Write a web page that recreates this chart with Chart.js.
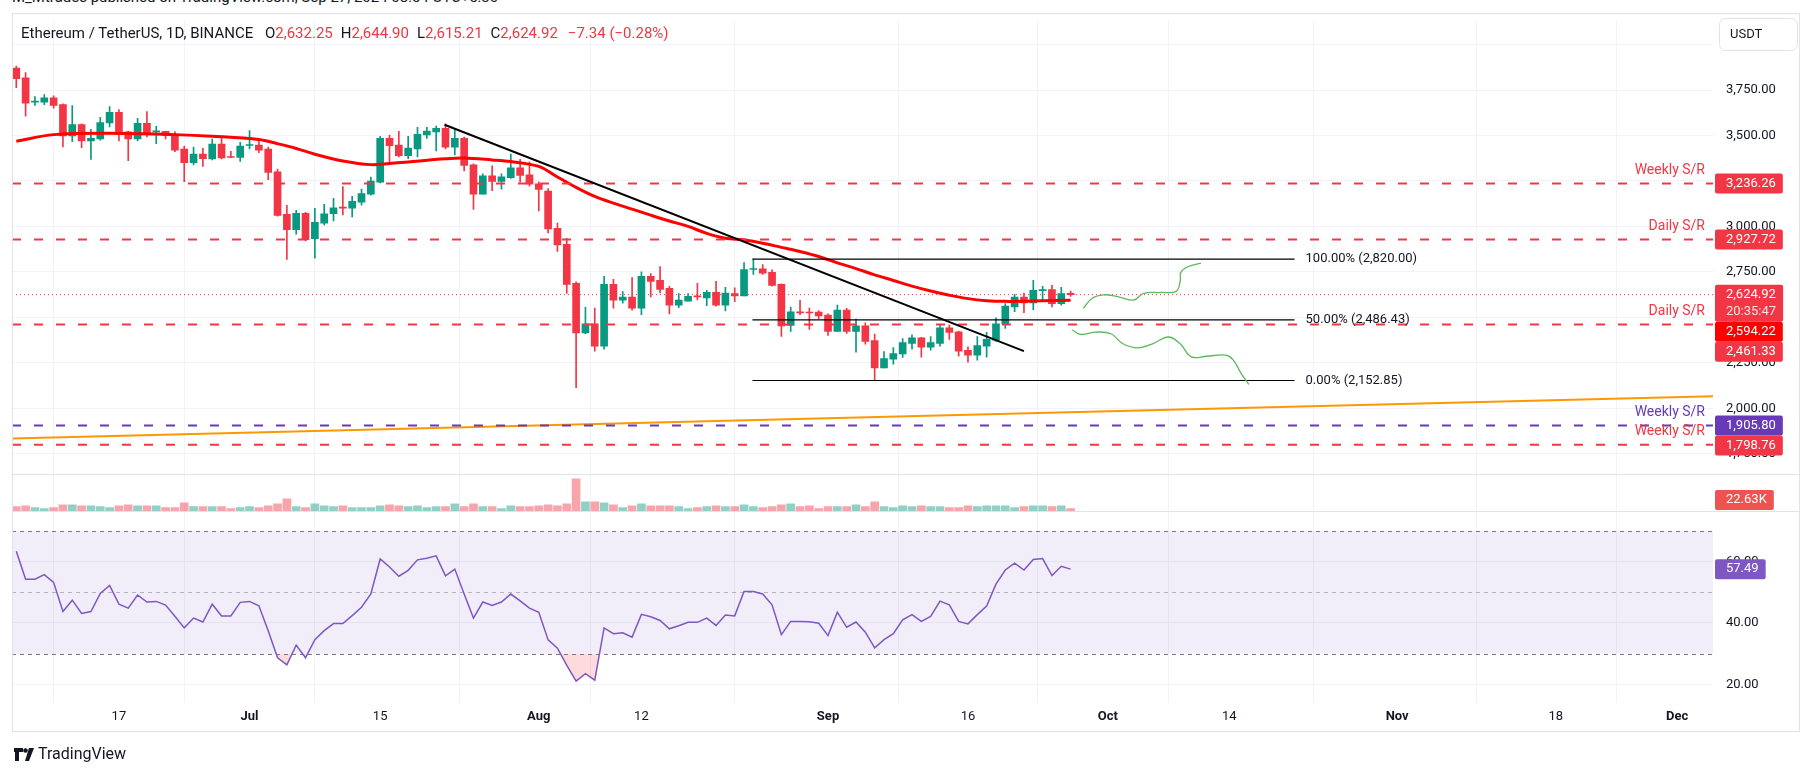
<!DOCTYPE html>
<html>
<head>
<meta charset="utf-8">
<script src="https://cdn.jsdelivr.net/npm/chart.js@4.4.1/dist/chart.umd.min.js"></script>
<style>
  html, body { margin: 0; padding: 0; background: #fff; }
  body { width: 1814px; height: 777px; position: relative; overflow: hidden;
         font-family: Roboto, "Noto Sans", "DejaVu Sans", sans-serif; color: #131722; }
  #chart { position: absolute; left: 0; top: 0; }
  .pub { position: absolute; left: 12px; top: -11px; font-size: 15px; line-height: 16px; white-space: nowrap; }
  .legend { position: absolute; left: 21px; top: 24px; font-size: 15px; line-height: 18px; white-space: nowrap; }
  .legend span { margin-left: 8px; }
  .legend .v { color: #f23645; margin-left: 0; }
  .footer { position: absolute; left: 14px; top: 745px; font-size: 16px; line-height: 18px; white-space: nowrap; }
  .footer svg { vertical-align: -2px; margin-right: 3px; }
</style>
</head>
<body>
<div class="pub">M_Mtrades published on TradingView.com, Sep 27, 2024 08:54 UTC+5:30</div>
<canvas id="chart" width="1814" height="777"></canvas>
<div class="legend">Ethereum / TetherUS, 1D, BINANCE <span>O<b class="v" style="font-weight:normal">2,632.25</b></span><span>H<b class="v" style="font-weight:normal">2,644.90</b></span><span>L<b class="v" style="font-weight:normal">2,615.21</b></span><span>C<b class="v" style="font-weight:normal">2,624.92</b></span><span class="v" style="margin-left:10px">−7.34 (−0.28%)</span></div>
<div class="footer"><svg width="21" height="13" viewBox="0 0 21 13"><path d="M0 0h9v4H5v9H1V4H0z" fill="#131722"/><circle cx="11.5" cy="2.5" r="2.3" fill="#131722"/><path d="M15 0h5l-5 13h-4z" fill="#131722"/></svg>TradingView</div>
<script>
// daily candles, 6 Jun – 27 Sep 2024 (index 0 = 6 Jun)
const opens = [3871,3817,3683,3683,3708,3670,3498,3560,3471,3482,3569,3627,3520,3482,3567,3520,3523,3505,3426,3351,
  3398,3371,3453,3382,3379,3445,3447,3426,3301,3067,2982,3072,2933,3018,3070,3105,3101,3134,3177,3243,
  3485,3447,3389,3427,3504,3520,3540,3436,3485,3339,3177,3279,3248,3268,3322,3284,3235,3195,2989,2902,
  2687,2415,2464,2341,2681,2595,2611,2551,2725,2703,2660,2567,2589,2618,2607,2638,2567,2631,2618,2763,
  2767,2747,2681,2455,2530,2528,2529,2513,2423,2540,2423,2453,2372,2222,2270,2299,2357,2388,2336,2357,
  2442,2421,2318,2292,2341,2375,2464,2558,2611,2580,2647,2653,2575,2632.25];
const highs = [3882,3846,3714,3725,3719,3674,3665,3565,3534,3600,3659,3643,3524,3594,3632,3551,3525,3522,3442,3436,
  3429,3480,3493,3413,3462,3527,3469,3437,3315,3116,3089,3078,3100,3121,3154,3219,3165,3206,3272,3496,
  3502,3523,3496,3545,3545,3552,3565,3538,3491,3344,3290,3333,3290,3398,3369,3355,3246,3208,3018,2935,
  2696,2555,2551,2725,2709,2642,2719,2750,2741,2779,2671,2631,2631,2687,2649,2698,2665,2663,2801,2820,
  2790,2761,2685,2557,2593,2551,2537,2519,2567,2549,2490,2470,2408,2312,2334,2383,2404,2390,2394,2457,
  2457,2424,2338,2394,2417,2497,2576,2627,2634,2703,2671,2676,2665,2644.90];
const lows = [3763,3607,3665,3670,3650,3438,3466,3433,3368,3475,3547,3471,3362,3471,3493,3455,3482,3411,3246,3339,
  3330,3366,3371,3378,3357,3426,3406,3257,3056,2819,2958,2920,2826,3009,3031,3063,3052,3117,3172,3239,
  3353,3382,3373,3382,3484,3415,3427,3393,3306,3094,3177,3197,3205,3264,3243,3221,3085,2964,2862,2631,
  2113,2410,2314,2325,2551,2578,2540,2515,2613,2634,2519,2553,2589,2596,2564,2562,2535,2586,2618,2736,
  2736,2672,2395,2423,2515,2433,2493,2401,2423,2412,2309,2352,2152.85,2222,2243,2280,2325,2281,2319,2341,
  2379,2287,2254,2265,2281,2368,2439,2531,2526,2542,2596,2558,2567,2615.21];
const closes = [3813,3678,3689,3708,3665,3498,3560,3471,3484,3571,3627,3505,3482,3567,3505,3523,3500,3420,3351,3398,
  3373,3453,3377,3379,3442,3448,3420,3297,3061,2982,3072,2927,3022,3070,3103,3101,3138,3181,3250,3485,
  3444,3389,3431,3507,3524,3540,3436,3485,3335,3177,3279,3248,3273,3322,3281,3232,3204,2986,2899,2681,
  2415,2464,2341,2681,2595,2611,2551,2725,2698,2654,2567,2595,2616,2613,2638,2567,2633,2618,2763,2768,
  2743,2676,2453,2531,2525,2524,2508,2423,2540,2423,2453,2368,2222,2274,2301,2361,2388,2336,2361,2442,
  2417,2314,2292,2345,2379,2464,2562,2611,2580,2649,2651,2575,2631,2624.92];
// volume, thousands
const volumes = [43,52,33,23,33,62,62,52,52,43,33,52,62,52,52,52,33,33,82,43,
  43,43,43,23,33,43,33,52,72,121,43,33,72,52,43,52,33,33,33,52,
  62,52,43,52,33,43,43,72,43,72,43,43,23,52,43,43,52,62,52,72,
  320,92,92,82,62,33,52,72,52,52,52,43,23,33,43,52,43,43,62,43,
  33,43,62,72,43,52,23,43,43,43,62,43,92,43,33,52,43,52,43,43,
  33,33,52,43,52,52,52,33,43,52,52,43,52,22.63];
const rsiValues = [63.3,54.2,54.2,55.7,53.2,43.7,47.4,43.1,43.7,49.6,52.2,46.1,44.8,49.1,46.8,47.0,45.8,42.2,38.4,41.6,
  40.3,46.1,42.3,42.3,46.7,47.0,45.6,37.5,28.7,26.4,32.8,28.7,34.6,37.5,39.8,39.8,42.4,45.1,49.4,60.8,
  58.2,55.2,57.1,60.5,61.0,61.8,55.3,57.5,49.4,41.6,46.8,45.7,46.8,49.4,47.2,44.8,43.5,34.5,31.8,26.2,
  21.1,23.5,21.4,38.4,36.5,36.8,35.4,42.8,42.0,40.8,38.1,39.1,40.2,40.2,41.6,39.2,42.6,42.3,50.2,50.2,
  49.4,45.9,36.2,40.5,40.5,40.4,39.9,35.9,43.5,38.6,40.3,37.0,31.9,34.6,36.5,41.0,42.7,40.5,42.1,47.1,
  45.9,40.5,39.7,42.7,45.5,52.6,57.2,59.4,57.2,60.6,60.9,55.4,58.4,57.49];
// 50 EMA
const emaIdx = [0,4,10,17,21,26,28,30,32,35,38,40,42,46,48,51,53,56,58,60,62,64,66,68,70,72,74,76,78,80,82,84,86,88,90,92,94,96,98,100,102,104,106,108,110,113];
const emaValues = [3469,3505,3513,3505,3496,3478,3455,3429,3397,3360,3340,3346,3355,3372,3376,3366,3357,3330,3272,3215,3165,3128,3095,3062,3030,3000,2962,2935,2925,2908,2885,2862,2835,2800,2768,2734,2703,2672,2645,2622,2603,2592,2588,2589,2591,2594.22];

const xTickIdx = [11,25,39,56,67,87,102,117,130,148,165,178];
const xTickLabels = ['17','Jul','15','Aug','12','Sep','16','Oct','14','Nov','18','Dec'];
const monthLabels = ['Jul','Aug','Sep','Oct','Nov','Dec'];
const priceTicks = [1750,2000,2250,2500,2750,3000,3250,3500,3750,4000];
const rsiTicks = [20,40,60];

const srRed = [3236.26, 2927.72, 2461.33, 1798.76];
const srRedNames = ['Weekly S/R', 'Daily S/R', 'Daily S/R', 'Weekly S/R'];
const srPurple = [1905.80];
const srPurpleNames = ['Weekly S/R'];
const fibLevels = [2820.00, 2486.43, 2152.85];
const fibPct = ['100.00%', '50.00%', '0.00%'];
const fibSpan = [78.9, 137];
const trendIdx = [45.9, 108];
const trendVals = [3559, 2314];
const supportIdx = [-0.46, 181.85];
const supportVals = [1834, 2066];
const upPathIdx = [114.37,115.27,116.5,118.14,119.78,120.81,122.66,124.3,124.75,124.8,125.5,126.97];
const upPathVals = [2550,2604,2624,2613,2595,2632,2637,2643,2700,2746,2777,2798];
const downPathIdx = [113.14,114.05,115.69,117.33,118.56,120.2,121.84,123.48,124.71,125.94,127.58,129.63,130.44,131.27,132.1];
const downPathVals = [2432,2406,2419,2410,2356,2332,2356,2392,2356,2283,2286,2292,2265,2192,2132];

const lastPrice = 2624.92;
const countdown = '20:35:47';
const rsiBand = [30, 70];
const rsiLevels = [70, 50, 30];

const FONT = 'Roboto, "Noto Sans", "DejaVu Sans", sans-serif';
const UP = '#089981', DOWN = '#f23645';
const xMin = -0.46, xMax = 181.85;

const fmt = v => v.toLocaleString('en-US', { minimumFractionDigits: 2, maximumFractionDigits: 2 });
const candleColor = i => closes[i] >= opens[i] ? UP : DOWN;
const pts = (xs, ys) => xs.map((x, i) => ({ x: x, y: ys[i] }));
const flat = v => [{ x: xMin, y: v }, { x: xMax, y: v }];

function drawTags(ctx, tags) {
  tags.sort((a, b) => a.y - b.y);
  let prevBottom = -Infinity;
  ctx.font = '13px ' + FONT;
  tags.forEach(t => {
    const h = t.lines.length > 1 ? 37 : 20;
    let top = t.y - 10;
    if (t.maxBottom !== undefined && top + h > t.maxBottom) top = t.maxBottom - h;
    if (top < prevBottom) top = prevBottom;
    const w = Math.max(...t.lines.map(s => ctx.measureText(s).width)) + 18;
    ctx.fillStyle = t.color;
    ctx.beginPath();
    ctx.roundRect(1715, top, w, h, 2);
    ctx.fill();
    ctx.textAlign = 'left';
    ctx.textBaseline = 'middle';
    t.lines.forEach((s, k) => {
      ctx.fillStyle = k === 0 ? '#ffffff' : 'rgba(255,255,255,0.85)';
      ctx.fillText(s, 1726, top + 10 + k * 17);
    });
    prevBottom = top + h;
  });
}

const overlay = {
  id: 'overlay',
  beforeDatasetsDraw(chart) {
    const { ctx, chartArea: a } = chart;
    const yR = chart.scales.yRsi;
    ctx.save();
    const t = yR.getPixelForValue(rsiBand[1]), b = yR.getPixelForValue(rsiBand[0]);
    ctx.fillStyle = 'rgba(126, 87, 194, 0.1)';
    ctx.fillRect(a.left, t, a.right - a.left, b - t);
    ctx.setLineDash([4, 4]);
    ctx.lineWidth = 1;
    rsiLevels.forEach(v => {
      const y = Math.round(yR.getPixelForValue(v)) + 0.5;
      ctx.strokeStyle = v === 50 ? 'rgba(120,123,134,0.5)' : '#787b86';
      ctx.beginPath(); ctx.moveTo(a.left, y); ctx.lineTo(a.right, y); ctx.stroke();
    });
    ctx.restore();
  },
  afterDraw(chart) {
    const { ctx } = chart;
    const y = chart.scales.y, x = chart.scales.x;
    ctx.save();
    // pane separators and frame
    ctx.strokeStyle = '#e0e3eb';
    ctx.lineWidth = 1;
    [chart.scales.y.bottom, chart.scales.yVol.bottom].forEach(v => {
      const yy = Math.round(v) + 0.5;
      ctx.beginPath(); ctx.moveTo(12, yy); ctx.lineTo(1800, yy); ctx.stroke();
    });
    ctx.strokeRect(12.5, 13.5, 1787, 718);

    // S/R captions
    ctx.font = '14px ' + FONT;
    ctx.textAlign = 'right';
    ctx.textBaseline = 'middle';
    ctx.fillStyle = '#f23645';
    srRed.forEach((v, i) => ctx.fillText(srRedNames[i], 1705, y.getPixelForValue(v) - 13));
    ctx.fillStyle = '#673ab7';
    srPurple.forEach((v, i) => ctx.fillText(srPurpleNames[i], 1705, y.getPixelForValue(v) - 13));

    // fib captions
    ctx.font = '13px ' + FONT;
    ctx.textAlign = 'left';
    ctx.fillStyle = '#131722';
    fibLevels.forEach((v, i) => ctx.fillText(fibPct[i] + ' (' + fmt(v) + ')', x.getPixelForValue(fibSpan[1]) + 11, y.getPixelForValue(v)));

    // axis tags
    const emaLast = emaValues[emaValues.length - 1];
    drawTags(ctx, [
      { y: y.getPixelForValue(srRed[0]), lines: [fmt(srRed[0])], color: '#f23645' },
      { y: y.getPixelForValue(srRed[1]), lines: [fmt(srRed[1])], color: '#f23645' },
      { y: y.getPixelForValue(lastPrice), lines: [fmt(lastPrice), countdown], color: '#f23645' },
      { y: y.getPixelForValue(emaLast) + 0.1, lines: [fmt(emaLast)], color: '#ff0000' },
      { y: y.getPixelForValue(srRed[2]) + 0.2, lines: [fmt(srRed[2])], color: '#f23645' },
      { y: y.getPixelForValue(srPurple[0]), lines: [fmt(srPurple[0])], color: '#673ab7' },
      { y: y.getPixelForValue(srRed[3]), lines: [fmt(srRed[3])], color: '#f23645' }
    ]);
    const yV = chart.scales.yVol;
    const volLast = volumes[volumes.length - 1];
    drawTags(ctx, [{ y: yV.getPixelForValue(volLast), lines: [volLast.toFixed(2) + 'K'], color: '#ef5350', maxBottom: yV.bottom - 1 }]);
    const yR = chart.scales.yRsi;
    const rsiLast = rsiValues[rsiValues.length - 1];
    drawTags(ctx, [{ y: yR.getPixelForValue(rsiLast), lines: [rsiLast.toFixed(2)], color: '#7e57c2' }]);

    // currency button
    ctx.fillStyle = '#ffffff';
    ctx.strokeStyle = '#e0e3eb';
    ctx.beginPath(); ctx.roundRect(1719.5, 18.5, 78, 32, 6); ctx.fill(); ctx.stroke();
    ctx.fillStyle = '#131722';
    ctx.font = '13px ' + FONT;
    ctx.textAlign = 'left';
    ctx.fillText('USDT', 1730, 34.5);
    ctx.restore();
  }
};

const idx = opens.map((_, i) => i);
const lineDs = (data, color, width, extra) => Object.assign({
  type: 'line', data: data, borderColor: color, borderWidth: width, pointRadius: 0,
  fill: false, tension: 0, yAxisID: 'y', order: 0
}, extra || {});

new Chart(document.getElementById('chart'), {
  type: 'bar',
  data: {
    datasets: [
      lineDs(pts(trendIdx, trendVals), '#000000', 2),
      lineDs(pts(upPathIdx, upPathVals), '#5cb85c', 1.3, { tension: 0.4 }),
      lineDs(pts(downPathIdx, downPathVals), '#5cb85c', 1.3, { tension: 0.4 }),
      ...fibLevels.map(v => lineDs([{ x: fibSpan[0], y: v }, { x: fibSpan[1], y: v }], '#000000', 1.2)),
      ...srRed.map(v => lineDs(flat(v), '#f23645', 2, { borderDash: [9, 13] })),
      ...srPurple.map(v => lineDs(flat(v), '#673ab7', 2, { borderDash: [9, 13] })),
      lineDs(pts(supportIdx, supportVals), '#ff9800', 2),
      lineDs(flat(lastPrice), '#f23645', 1, { borderDash: [1, 3], order: 5 }),
      lineDs(pts(emaIdx, emaValues), '#ff0000', 3, { tension: 0.35, order: 1 }),
      {
        type: 'bar', data: idx.map(i => ({ x: i, y: [opens[i], closes[i]] })),
        backgroundColor: idx.map(candleColor), barThickness: 7, minBarLength: 1,
        grouped: false, yAxisID: 'y', order: 2
      },
      {
        type: 'bar', data: idx.map(i => ({ x: i, y: [lows[i], highs[i]] })),
        backgroundColor: idx.map(candleColor), barThickness: 1,
        grouped: false, yAxisID: 'y', order: 3
      },
      {
        type: 'bar', data: idx.map(i => ({ x: i, y: volumes[i] })),
        backgroundColor: idx.map(i => closes[i] >= opens[i] ? 'rgba(8,153,129,0.45)' : 'rgba(242,54,69,0.45)'),
        barThickness: 8, grouped: false, yAxisID: 'yVol', order: 4
      },
      {
        type: 'line', data: idx.map(i => ({ x: i, y: rsiValues[i] })),
        borderColor: '#7e57c2', borderWidth: 1.5, pointRadius: 0, tension: 0,
        fill: { target: { value: rsiBand[0] }, above: 'rgba(0,0,0,0)', below: 'rgba(242,54,69,0.18)' },
        yAxisID: 'yRsi', order: 1
      }
    ]
  },
  options: {
    responsive: false,
    animation: false,
    devicePixelRatio: 1,
    layout: { padding: { left: 12, top: 14, right: 14, bottom: 45 } },
    plugins: { legend: { display: false }, tooltip: { enabled: false } },
    scales: {
      x: {
        type: 'linear', min: xMin, max: xMax, offset: false,
        grid: { color: '#f0f3fa', drawTicks: false },
        border: { display: false },
        afterBuildTicks: s => { s.ticks = xTickIdx.map(v => ({ value: v })); },
        afterFit: s => { s.height = 29; },
        ticks: {
          autoSkip: false, maxRotation: 0, padding: 6, color: '#131722',
          font: c => ({ size: 13, family: FONT, weight: monthLabels.includes(xTickLabels[c.index]) ? 'bold' : 'normal' }),
          callback: (v, i) => xTickLabels[i]
        }
      },
      y: {
        type: 'linear', position: 'right', stack: 'panes', stackWeight: 458,
        min: 1637, max: 4131,
        grid: { color: '#f0f3fa', drawTicks: false },
        border: { display: false },
        afterBuildTicks: s => { s.ticks = priceTicks.map(v => ({ value: v })); },
        afterFit: s => { s.width = 87; },
        ticks: { autoSkip: false, padding: 13, color: '#131722',
                 font: { size: 13, family: FONT }, callback: v => fmt(v) }
      },
      yVol: {
        type: 'linear', position: 'right', stack: 'panes', stackWeight: 37,
        min: 0, max: 366,
        grid: { display: false }, border: { display: false },
        afterFit: s => { s.width = 87; },
        ticks: { display: false }
      },
      yRsi: {
        type: 'linear', position: 'right', stack: 'panes', stackWeight: 194,
        min: 14, max: 76.4,
        grid: { color: '#f0f3fa', drawTicks: false },
        border: { display: false },
        afterBuildTicks: s => { s.ticks = rsiTicks.map(v => ({ value: v })); },
        afterFit: s => { s.width = 87; },
        ticks: { autoSkip: false, padding: 13, color: '#131722',
                 font: { size: 13, family: FONT }, callback: v => v.toFixed(2) }
      }
    }
  },
  plugins: [overlay]
});
</script>
</body>
</html>
